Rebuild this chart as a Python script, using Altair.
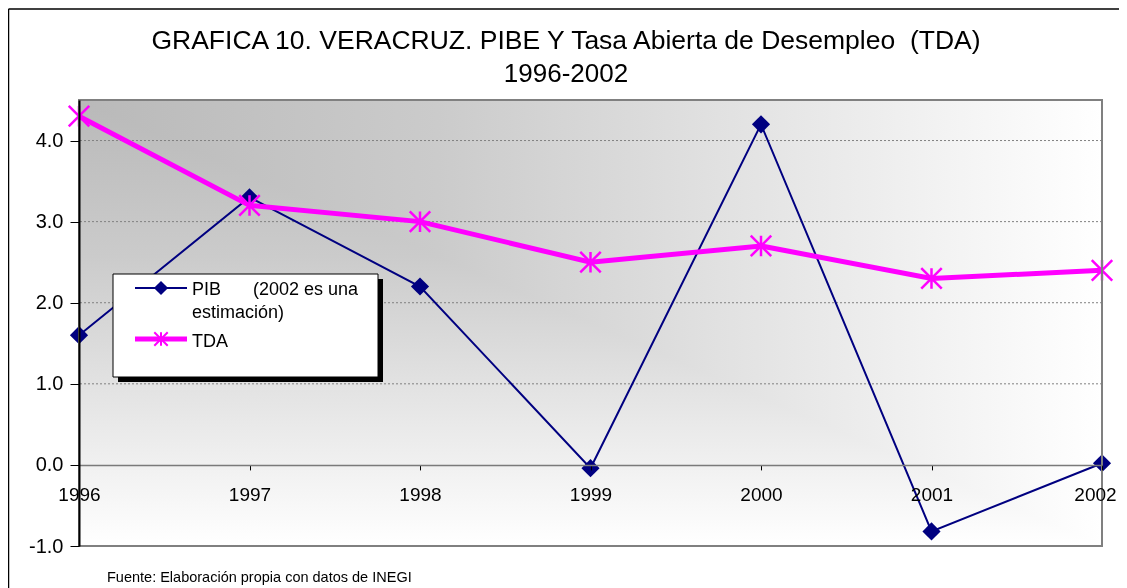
import altair as alt
import pandas as pd

# ---------------- data ----------------
years = [1996, 1997, 1998, 1999, 2000, 2001, 2002]
pib = [1.6, 3.3, 2.2, -0.04, 4.2, -0.82, 0.02]
tda = [4.3, 3.2, 3.0, 2.5, 2.7, 2.3, 2.4]
y_ticks = [-1.0, 0.0, 1.0, 2.0, 3.0, 4.0]
grid_vals = [1.0, 2.0, 3.0, 4.0]
title_line1 = "GRAFICA 10. VERACRUZ. PIBE Y Tasa Abierta de Desempleo \u00a0(TDA)"
title_line2 = "1996-2002"
legend_pib_a = "PIB"
legend_pib_b = "(2002 es una"
legend_pib_c = "estimación)"
legend_tda = "TDA"
footer = "Fuente: Elaboración propia con datos de INEGI"

# ---------------- layout ----------------
W, H = 1023, 446
FONT = "Liberation Sans"
NAVY = "#000080"
MAGENTA = "#ff00ff"
ASTER = "M-1,-1L1,1M-1,1L1,-1M0,-1L0,1"

df = pd.DataFrame({"year": years, "PIB": pib, "TDA": tda})
one = pd.DataFrame({"k": [0]})
grid_df = pd.DataFrame({"v": grid_vals})

xs = alt.Scale(domain=[1996, 2002], nice=False, zero=False)
ys = alt.Scale(domain=[-1, 4.5], nice=False, zero=False)

xaxis = alt.Axis(values=years, format="d", offset=-H / 5.5, domainColor="#7a7a7a",
                 domainWidth=1.5, tickColor="#000000", tickSize=5, tickWidth=1,
                 labelFontSize=19, labelFont=FONT, labelColor="#000000",
                 labelPadding=16, labelFlush=False, labelOverlap=False,
                 labelOffset={"condition": {"test": "datum.value == 2002", "value": -7}, "value": 0},
                 grid=False, zindex=1)
yaxis = alt.Axis(values=y_ticks,
                 labelExpr="datum.value < 0 ? '-' + format(-datum.value, '.1f') : format(datum.value, '.1f')",
                 domainColor="#000000", domainWidth=2,
                 tickColor="#000000", tickSize=9, tickWidth=1,
                 labelFontSize=20, labelFont=FONT, labelColor="#000000",
                 labelPadding=7, grid=False, zindex=1)


def lin(x2, y2):
    return {"gradient": "linear", "x1": 0, "y1": 0, "x2": x2, "y2": y2,
            "stops": [{"offset": 0, "color": "#b9b9b9"},
                      {"offset": 0.35, "color": "#cbcbcb"},
                      {"offset": 1, "color": "#ffffff"}]}


full = dict(x=alt.value(0), x2=alt.value(W), y=alt.value(0), y2=alt.value(H))
bg1 = alt.Chart(one).mark_rect(fill=lin(1, 0)).encode(**full)
bg2 = alt.Chart(one).mark_rect(fill=lin(0, 1), blend="lighten").encode(**full)

grid = alt.Chart(grid_df).mark_rule(color="#808080", strokeDash=[2, 2], strokeWidth=1).encode(
    y=alt.Y("v:Q", scale=ys, axis=yaxis, title=None))

X = alt.X("year:Q", scale=xs, axis=xaxis, title=None)

pib_line = alt.Chart(df).mark_line(color=NAVY, strokeWidth=2).encode(
    x=X, y=alt.Y("PIB:Q", scale=ys, axis=yaxis, title=None))
pib_pts = alt.Chart(df).mark_point(shape="diamond", filled=True, color=NAVY, size=330, opacity=1).encode(
    x=X, y=alt.Y("PIB:Q", scale=ys, axis=yaxis, title=None))
tda_line = alt.Chart(df).mark_line(color=MAGENTA, strokeWidth=5).encode(
    x=X, y=alt.Y("TDA:Q", scale=ys, axis=yaxis, title=None))
tda_pts = alt.Chart(df).mark_point(shape=ASTER, filled=False, stroke=MAGENTA, strokeWidth=2.5,
                                   size=420, opacity=1).encode(
    x=X, y=alt.Y("TDA:Q", scale=ys, axis=yaxis, title=None))

frame = alt.Chart(one).mark_rect(fillOpacity=0, stroke="#808080", strokeWidth=2).encode(**full)

# legend (decoration)
shadow = alt.Chart(one).mark_rect(fill="#000000").encode(
    x=alt.value(39), x2=alt.value(304), y=alt.value(179), y2=alt.value(282))
box = alt.Chart(one).mark_rect(fill="#ffffff", stroke="#000000", strokeWidth=1).encode(
    x=alt.value(34), x2=alt.value(299), y=alt.value(174), y2=alt.value(277))
leg_pib_rule = alt.Chart(one).mark_rule(color=NAVY, strokeWidth=2).encode(
    x=alt.value(56), x2=alt.value(108), y=alt.value(188))
leg_pib_pt = alt.Chart(one).mark_point(shape="diamond", filled=True, color=NAVY, size=200, opacity=1).encode(
    x=alt.value(82), y=alt.value(188))
leg_tda_rule = alt.Chart(one).mark_rule(color=MAGENTA, strokeWidth=5).encode(
    x=alt.value(56), x2=alt.value(108), y=alt.value(239))
leg_tda_pt = alt.Chart(one).mark_point(shape=ASTER, filled=False, stroke=MAGENTA, strokeWidth=2,
                                       size=180, opacity=1).encode(
    x=alt.value(82), y=alt.value(239))


def txt(s, x, y, size=18, align="left"):
    return alt.Chart(one).mark_text(align=align, baseline="alphabetic", fontSize=size,
                                    font=FONT, color="#000000").encode(
        x=alt.value(x), y=alt.value(y), text=alt.value(s))


texts = [
    txt(legend_pib_a, 113, 195),
    txt(legend_pib_b, 174, 195),
    txt(legend_pib_c, 113, 218),
    txt(legend_tda, 113, 247),
    txt(title_line1, 487, -51, size=26.5, align="center"),
    txt(title_line2, 487, -18, size=26, align="center"),
    txt(footer, 28, 482, size=14.5),
]

outer_top = alt.Chart(one).mark_rule(color="#000000", strokeWidth=1.5).encode(
    x=alt.value(-70.5), x2=alt.value(1050), y=alt.value(-91))
outer_left = alt.Chart(one).mark_rule(color="#000000", strokeWidth=1.5).encode(
    x=alt.value(-70.5), y=alt.value(-91), y2=alt.value(490))

chart = alt.layer(
    bg1, bg2, grid, pib_line, tda_line, pib_pts, tda_pts, frame,
    shadow, box, leg_pib_rule, leg_pib_pt, leg_tda_rule, leg_tda_pt,
    *texts, outer_top, outer_left
).properties(
    width=W, height=H,
    padding={"left": 71, "top": 92, "right": 17, "bottom": 42},
    autosize=alt.AutoSizeParams(type="none"),
    background="#ffffff",
).configure_view(strokeWidth=0)

chart.save("out.html", embed_options={"renderer": "svg", "actions": False})
